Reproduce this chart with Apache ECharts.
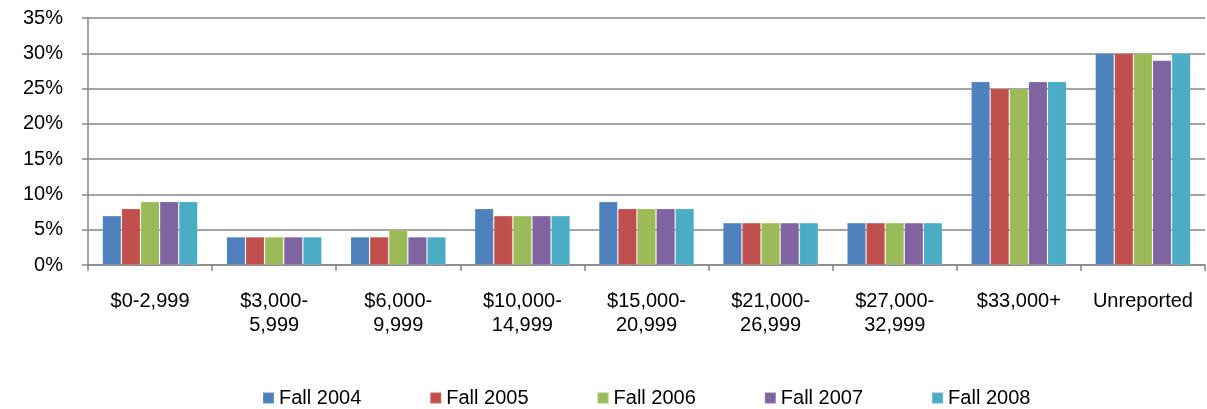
<!DOCTYPE html>
<html>
<head>
<meta charset="utf-8">
<script src="https://cdn.jsdelivr.net/npm/echarts@6/dist/echarts.min.js"></script>
<style>
  html, body { margin: 0; padding: 0; background: #fff; }
  #chart { width: 1207px; height: 409px; }
</style>
</head>
<body>
<div id="chart"></div>
<script>
var categories = ['$0-2,999', '$3,000-\n5,999', '$6,000-\n9,999', '$10,000-\n14,999',
    '$15,000-\n20,999', '$21,000-\n26,999', '$27,000-\n32,999', '$33,000+', 'Unreported'];
var seriesNames = ['Fall 2004', 'Fall 2005', 'Fall 2006', 'Fall 2007', 'Fall 2008'];
var fall2004 = [7, 4, 4, 8, 9, 6, 6, 26, 30];
var fall2005 = [8, 4, 4, 7, 8, 6, 6, 25, 30];
var fall2006 = [9, 4, 5, 7, 8, 6, 6, 25, 30];
var fall2007 = [9, 4, 4, 7, 8, 6, 6, 26, 29];
var fall2008 = [9, 4, 4, 7, 8, 6, 6, 26, 30];
var colors = ['#4f81bd', '#c0504d', '#9bbb59', '#8064a2', '#4bacc6'];

var font = '"Liberation Sans", Arial, sans-serif';
var lineColor = '#868686';
var chart = echarts.init(document.getElementById('chart'));

// 把每个系列的数据组合起来
var allData = [fall2004, fall2005, fall2006, fall2007, fall2008];
var series = seriesNames.map(function (name, i) {
    return {
        name: name,
        type: 'bar',
        data: allData[i],
        barGap: '0%',
        barCategoryGap: '23%',
        itemStyle: {
            color: colors[i],
            borderColor: 'rgba(255,255,255,0.12)',
            borderWidth: 1
        },
        animation: false
    };
});

chart.setOption({
    color: colors,
    grid: { left: 88, right: 2, top: 18, bottom: 144 },
    legend: {
        data: seriesNames,
        left: 257,
        top: 383,
        icon: 'rect',
        itemWidth: 11,
        itemHeight: 11,
        itemGap: 68,
        textStyle: { fontFamily: font, fontSize: 20, color: '#000' }
    },
    xAxis: {
        type: 'category',
        data: categories,
        axisLine: { lineStyle: { color: lineColor, width: 1.5 } },
        axisTick: { show: true, length: 6, lineStyle: { color: lineColor, width: 1.5 } },
        axisLabel: {
            interval: 0,
            margin: 24,
            fontFamily: font,
            fontSize: 20,
            lineHeight: 24,
            color: '#000'
        }
    },
    yAxis: {
        type: 'value',
        min: 0,
        max: 35,
        interval: 5,
        axisLine: { show: true, lineStyle: { color: lineColor, width: 1.5 } },
        axisTick: { show: true, length: 6, lineStyle: { color: lineColor, width: 1.5 } },
        splitLine: { lineStyle: { color: lineColor, width: 1.5 } },
        axisLabel: {
            formatter: '{value}%',
            margin: 25,
            fontFamily: font,
            fontSize: 20,
            color: '#000'
        }
    },
    series: series
});
</script>
</body>
</html>
